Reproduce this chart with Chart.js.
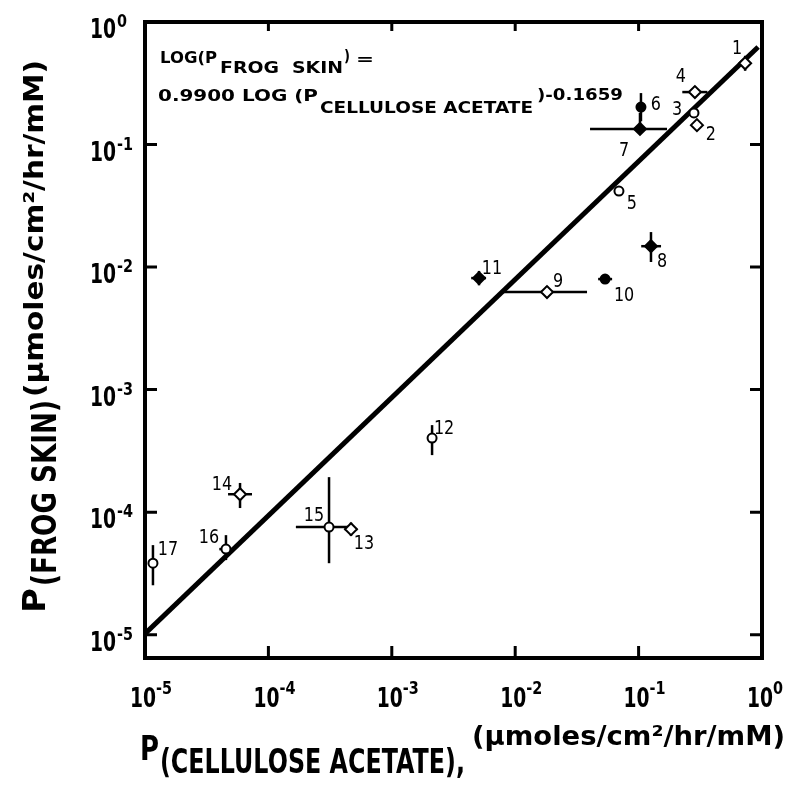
<!DOCTYPE html>
<html>
<head>
<meta charset="utf-8">
<script src="https://cdn.jsdelivr.net/npm/chart.js@4.4.0/dist/chart.umd.min.js"></script>
<style>
  html, body { margin: 0; padding: 0; background: #fff; }
  #wrap { width: 797px; height: 792px; }
</style>
</head>
<body>
<div id="wrap"><canvas id="chart" width="797" height="792"></canvas></div>
<script>
// numbered compounds, P(cellulose acetate) on x, P(frog skin) on y
const pointIds = ['1','2','3','4','5','6','7','8','9','10','11','12','13','14','15','16','17'];
const pCellulose = [0.73, 0.297, 0.281, 0.286, 0.0693, 0.1045, 0.1026, 0.126, 0.0181, 0.0535, 0.00509, 0.00212, 4.67e-4, 5.89e-5, 3.10e-4, 4.53e-5, 1.16e-5];
const pFrogSkin  = [0.46, 0.144, 0.181, 0.268, 0.0417, 0.202, 0.134, 0.0148, 0.00625, 0.00798, 0.00813, 4.02e-4, 7.26e-5, 1.40e-4, 7.55e-5, 4.99e-5, 3.83e-5];

// error bar ranges (null = no bar)
const xErrLow  = [0.66, null, null, 0.226, null, null, 0.0404, 0.105, 0.00782, 0.047, 0.0044, null, 4.15e-4, 4.71e-5, 1.67e-4, 4.0e-5, null];
const xErrHigh = [0.81, null, null, 0.361, null, null, 0.170, 0.152, 0.0382, 0.061, 0.0058, null, 5.25e-4, 7.36e-5, 4.75e-4, 5.1e-5, null];
const yErrLow  = [0.40, null, null, 0.24, null, 0.155, 0.125, 0.011, 0.0056, null, 0.0071, 2.92e-4, 6.4e-5, 1.08e-4, 3.83e-5, 4.06e-5, 2.53e-5];
const yErrHigh = [0.53, null, null, 0.30, null, 0.263, 0.181, 0.0193, 0.0070, null, 0.0093, 5.13e-4, 8.2e-5, 1.73e-4, 1.93e-4, 6.49e-5, 5.38e-5];

// od = open diamond, oc = open circle, fd = filled diamond, fc = filled circle
const markerKind = ['od','od','oc','od','oc','fc','fd','fd','od','fc','fd','oc','od','od','oc','oc','oc'];

// regression line at its two ends
const fitX = [1e-5, 0.93];
const fitY = [1.02e-5, 0.625];

const xTickValues = [1e-5, 1e-4, 1e-3, 1e-2, 1e-1, 1];
const xTickExp = ['-5', '-4', '-3', '-2', '-1', '0'];
const yTickValues = [1, 1e-1, 1e-2, 1e-3, 1e-4, 1e-5];
const yTickExp = ['0', '-1', '-2', '-3', '-4', '-5'];

// label offsets in px from each marker
const labelDx = [-8, 14, -17, -14, 13, 15, -16, 11, 11, 19, 13, 12, 13, -18, -15, -17, 15];
const labelDy = [-15, 10, -3, -15, 13, -2, 22, 16, -10, 17, -9, -9, 15, -9, -11, -11, -13];

const FONT = '"DejaVu Sans", "Liberation Sans", sans-serif';

function drawFit(ctx, str, x, y, size, width, weight) {
  ctx.save();
  ctx.font = (weight || 'bold') + ' ' + size + 'px ' + FONT;
  ctx.textBaseline = 'alphabetic';
  ctx.textAlign = 'left';
  const m = ctx.measureText(str).width;
  ctx.translate(x, y);
  if (width) ctx.scale(width / m, 1);
  ctx.fillStyle = '#000';
  ctx.fillText(str, 0, 0);
  ctx.restore();
}

function drawFitRot(ctx, str, baseX, startY, size, width, weight) {
  ctx.save();
  ctx.translate(baseX, startY);
  ctx.rotate(-Math.PI / 2);
  drawFit(ctx, str, 0, 0, size, width, weight);
  ctx.restore();
}

const decorPlugin = {
  id: 'decor',
  beforeDatasetsDraw(chart) {
    const ctx = chart.ctx;
    const xs = chart.scales.x, ys = chart.scales.y;
    const a = chart.chartArea;
    ctx.save();
    ctx.strokeStyle = '#000';
    ctx.lineCap = 'butt';

    // frame
    ctx.lineWidth = 4;
    ctx.strokeRect(a.left, a.top, a.right - a.left, a.bottom - a.top);

    // inward tick marks
    ctx.lineWidth = 3;
    xTickValues.forEach(v => {
      const px = xs.getPixelForValue(v);
      if (px > a.left + 3 && px < a.right - 3) {
        ctx.beginPath();
        ctx.moveTo(px, a.bottom); ctx.lineTo(px, a.bottom - 12);
        ctx.moveTo(px, a.top); ctx.lineTo(px, a.top + 9);
        ctx.stroke();
      }
    });
    yTickValues.forEach(v => {
      const py = ys.getPixelForValue(v);
      if (py > a.top + 3 && py < a.bottom - 3) {
        ctx.beginPath();
        ctx.moveTo(a.left, py); ctx.lineTo(a.left + 12, py);
        ctx.moveTo(a.right, py); ctx.lineTo(a.right - 12, py);
        ctx.stroke();
      }
    });

    // error bars
    ctx.lineWidth = 2.5;
    pointIds.forEach((id, i) => {
      const px = xs.getPixelForValue(pCellulose[i]);
      const py = ys.getPixelForValue(pFrogSkin[i]);
      if (xErrLow[i] !== null) {
        ctx.beginPath();
        ctx.moveTo(xs.getPixelForValue(xErrLow[i]), py);
        ctx.lineTo(xs.getPixelForValue(xErrHigh[i]), py);
        ctx.stroke();
      }
      if (yErrLow[i] !== null) {
        ctx.beginPath();
        ctx.moveTo(px, ys.getPixelForValue(yErrLow[i]));
        ctx.lineTo(px, ys.getPixelForValue(yErrHigh[i]));
        ctx.stroke();
      }
    });
    ctx.restore();
  },
  afterDatasetsDraw(chart) {
    const ctx = chart.ctx;
    const xs = chart.scales.x, ys = chart.scales.y;

    // point numbers
    pointIds.forEach((id, i) => {
      const px = xs.getPixelForValue(pCellulose[i]) + labelDx[i];
      const py = ys.getPixelForValue(pFrogSkin[i]) + labelDy[i];
      ctx.save();
      ctx.font = '20px ' + FONT;
      ctx.textAlign = 'center';
      ctx.textBaseline = 'middle';
      ctx.translate(px, py);
      ctx.scale(0.8, 1);
      ctx.fillStyle = '#000';
      ctx.fillText(id, 0, 0);
      ctx.restore();
    });

    // tick labels
    xTickValues.forEach((v, i) => {
      const px = xs.getPixelForValue(v);
      drawFit(ctx, '10', px - 15, 707, 27, 26);
      drawFit(ctx, xTickExp[i], px + 11, 694, 17, xTickExp[i].length > 1 ? 16 : 10);
    });
    yTickValues.forEach((v, i) => {
      const py = ys.getPixelForValue(v);
      drawFit(ctx, '10', 90, py + 16, 27, 26);
      drawFit(ctx, yTickExp[i], 117, py + 5, 17, yTickExp[i].length > 1 ? 16 : 10);
    });

    // regression equation
    drawFit(ctx, 'LOG(P', 160, 63, 15, 57);
    drawFit(ctx, 'FROG  SKIN', 220, 73, 16, 123);
    drawFit(ctx, ')', 344, 61, 16, 6);
    drawFit(ctx, '=', 356, 64, 16, 18);
    drawFit(ctx, '0.9900 LOG (P', 158, 101, 16, 160);
    drawFit(ctx, 'CELLULOSE ACETATE', 320, 113, 16, 213);
    drawFit(ctx, ')-0.1659', 537, 100, 16, 86);

    // axis titles
    drawFit(ctx, 'P', 140, 760, 34, 19);
    drawFit(ctx, '(CELLULOSE ACETATE),', 160, 773, 34, 305);
    drawFit(ctx, '(\u00b5moles/cm\u00b2/hr/mM)', 472, 745, 27, 313);

    drawFitRot(ctx, 'P', 45, 613, 32, 25);
    drawFitRot(ctx, '(FROG SKIN)', 56, 586, 33, 186);
    drawFitRot(ctx, '(\u00b5moles/cm\u00b2/hr/mM)', 43, 397, 26, 337);
  }
};

const pts = pointIds.map((id, i) => ({ x: pCellulose[i], y: pFrogSkin[i] }));
const fitPts = fitX.map((x, i) => ({ x: x, y: fitY[i] }));

const ctx = document.getElementById('chart').getContext('2d');
new Chart(ctx, {
  type: 'scatter',
  data: {
    datasets: [{
      label: 'compounds',
      data: pts,
      pointStyle: markerKind.map(k => k[1] === 'd' ? 'rectRot' : 'circle'),
      pointRadius: markerKind.map(k => k[1] === 'd' ? 6 : 4.5),
      pointBackgroundColor: markerKind.map(k => k[0] === 'f' ? '#000' : '#fff'),
      pointBorderColor: '#000',
      pointBorderWidth: 2,
      showLine: false
    }, {
      label: 'fit',
      type: 'line',
      data: fitPts,
      borderColor: '#000',
      borderWidth: 5,
      pointRadius: 0,
      fill: false
    }]
  },
  options: {
    responsive: false,
    animation: false,
    layout: { padding: { left: 145, top: 22, right: 35, bottom: 134 } },
    plugins: { legend: { display: false }, tooltip: { enabled: false } },
    scales: {
      x: { type: 'logarithmic', min: 1e-5, max: 1, display: false },
      y: { type: 'logarithmic', min: 6.45e-6, max: 1, display: false }
    }
  },
  plugins: [decorPlugin]
});
</script>
</body>
</html>
